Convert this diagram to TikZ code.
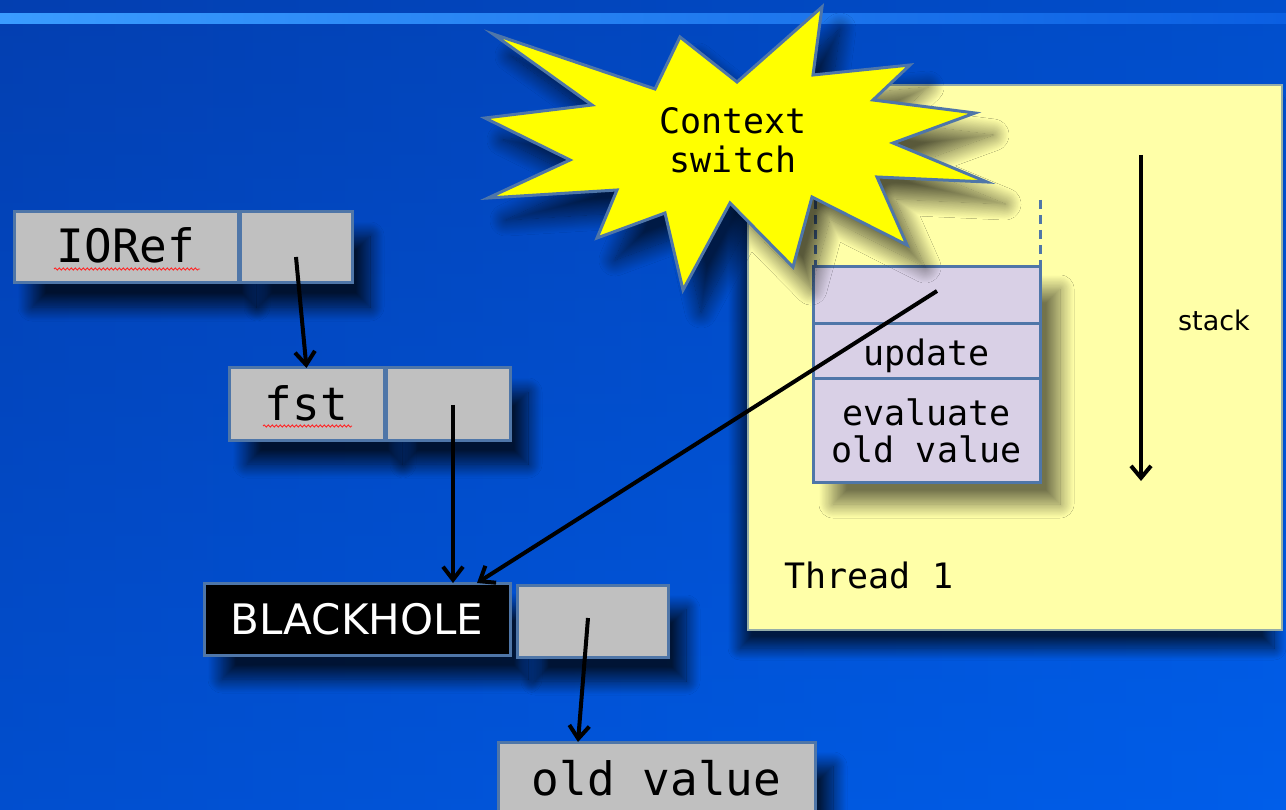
\documentclass[tikz,border=0pt]{standalone}
\usepackage{fontspec}
\newfontfamily\monof{DejaVu Sans Mono}
\newfontfamily\sansf{DejaVu Sans}
\usetikzlibrary{arrows.meta,shadows.blur,decorations.pathmorphing}
\definecolor{bgL}{HTML}{0342B8}
\definecolor{bgR}{HTML}{005EEA}
\definecolor{bgT}{HTML}{033CA8}
\definecolor{barL}{HTML}{3A9CFF}
\definecolor{barR}{HTML}{0B5FE2}
\definecolor{cellgray}{HTML}{C0C0C0}
\definecolor{edge}{HTML}{4F76A8}
\definecolor{threadY}{HTML}{FFFFA8}
\definecolor{lav}{HTML}{D9D0E6}
\definecolor{burst}{HTML}{FFFF00}
\tikzset{
  cell/.style={draw=edge, line width=3pt, fill=cellgray, inner sep=0pt, outer sep=0pt},
  shad/.style={blur shadow={shadow xshift=18pt, shadow yshift=-24pt, shadow blur radius=14pt, shadow blur steps=24, shadow opacity=75}},
  bigmono/.style={font=\monof\fontsize{46}{52}\selectfont},
  midmono/.style={font=\monof\fontsize{35}{41}\selectfont},
  stackcell/.style={draw=edge, line width=3pt, fill=lav, inner sep=0pt, outer sep=0pt},
  ptr/.style={line width=4pt, -{Straight Barb[length=13pt,width=20pt,line width=4pt]}},
  squig/.style={red!85!white, line width=0.9pt, decorate, decoration={snake, amplitude=1.1pt, segment length=4pt}}
}
\begin{document}
\begin{tikzpicture}[x=1pt,y=-1pt]
\useasboundingbox (0,0) rectangle (1286,810);
\clip (0,0) rectangle (1286,810);
% background
\shade[left color=bgL, right color=bgR] (0,0) rectangle (1286,810);
\shade[top color=bgT, bottom color=bgR, opacity=0.45] (0,0) rectangle (1286,810);
\shade[left color=barL, right color=barR] (0,14) rectangle (1286,24);

% thread box
\node[draw=edge!60!threadY, line width=2pt, fill=threadY, minimum width=534pt, minimum height=545pt, inner sep=0pt,
      blur shadow={shadow xshift=-8pt, shadow yshift=-18pt, shadow blur radius=12pt, shadow blur steps=24, shadow opacity=70}]
  (thread) at (1015,357.5) {};
\node[midmono, anchor=west] (tlabel) at (781,575) {Thread 1};

% stack
\draw[edge, line width=3pt, dash pattern=on 9pt off 6pt] (815,200) -- (815,265);
\draw[edge, line width=3pt, dash pattern=on 9pt off 6pt] (1040,200) -- (1040,265);
\node[stackcell, minimum width=227pt, minimum height=215pt,
      blur shadow={shadow xshift=20pt, shadow yshift=-22pt, shadow blur radius=14pt, shadow blur steps=24, shadow opacity=55}] (stackbg) at (926.5,374.5) {};
\node[stackcell, minimum width=227pt, minimum height=57pt] (s1) at (926.5,295.5) {};
\node[stackcell, minimum width=227pt, minimum height=55pt, midmono] (s2) at (926.5,351.5) {\raisebox{-4pt}[0.75em][0.2em]{update}};
\node[stackcell, minimum width=227pt, minimum height=103pt, midmono, align=center] (s3) at (926.5,430.5) {evaluate\\[-4pt]old value};
\coordinate (sp) at (937,291);

% stack arrow and label
\coordinate (stop) at (1141,155);
\coordinate (sbot) at (1141,481);
\draw[line width=4pt, -{Straight Barb[length=12pt,width=20pt,line width=4pt]}] (stop) -- (sbot);
\node[font=\sansf\fontsize{27}{32}\selectfont] (stacklbl) at (1214,320) {stack};

% starburst
\filldraw[fill=burst, draw=edge, line width=3pt,
  blur shadow={shadow xshift=18pt, shadow yshift=-22pt, shadow blur radius=16pt, shadow blur steps=24, shadow opacity=65}]
  (493,34) -- (655,89) -- (680,37) -- (737,82) -- (822,7) -- (813,75) -- (910,65) -- (873,100)
  -- (975,113) -- (893,143) -- (987,182) -- (877,177) -- (907,245) -- (812,197) -- (793,267)
  -- (730,203) -- (683,290) -- (665,213) -- (597,238) -- (617,190) -- (488,198) -- (570,160)
  -- (485,118) -- (592,105) -- cycle;
\node[midmono, align=center] (ctx) at (733,140) {Context\\[-2pt]switch};

% IORef
\node[cell, shad, minimum width=224pt, minimum height=71pt] (ioref) at (126,247.5) {};
\node[bigmono] at (ioref) {\raisebox{-4pt}[0.7em][0.2em]{IORef}};
\node[cell, shad, minimum width=112pt, minimum height=71pt] (iorefp) at (296,247.5) {};
\draw[squig] (54,269) -- (200,269);

% fst
\node[cell, shad, minimum width=155pt, minimum height=72pt] (fst) at (306.5,404) {};
\node[bigmono] at (fst) {\raisebox{-5pt}[0.7em][0.2em]{fst}};
\node[cell, shad, minimum width=124pt, minimum height=72pt] (fstp) at (448,404) {};
\draw[squig] (263,426) -- (352,426);

% BLACKHOLE
\node[draw=edge, line width=3pt, fill=black, shad, minimum width=306pt, minimum height=72pt, inner sep=0pt,
      text=white, font=\sansf\fontsize{42}{48}\selectfont] (bh) at (357,619) {BLACKHOLE};
\node[cell, shad, minimum width=151pt, minimum height=72pt] (bhp) at (592.5,621) {};

% old value
\node[cell, shad, minimum width=317pt, minimum height=80pt, bigmono] (old) at (656.5,782) {\raisebox{-2pt}[0.7em][0.2em]{old value}};

% pointers
\coordinate (a1) at (296,257);
\coordinate (a2) at (453,405);
\coordinate (a2e) at (453,583);
\coordinate (a3) at (588,618);
\coordinate (a3e) at (578,742);
\coordinate (a4e) at (477,583);
\draw[ptr] (a1) -- (fst.north);
\draw[ptr] (a2) -- (a2e);
\draw[ptr] (a3) -- (a3e);
\draw[ptr] (sp) -- (a4e);
\end{tikzpicture}
\end{document}
